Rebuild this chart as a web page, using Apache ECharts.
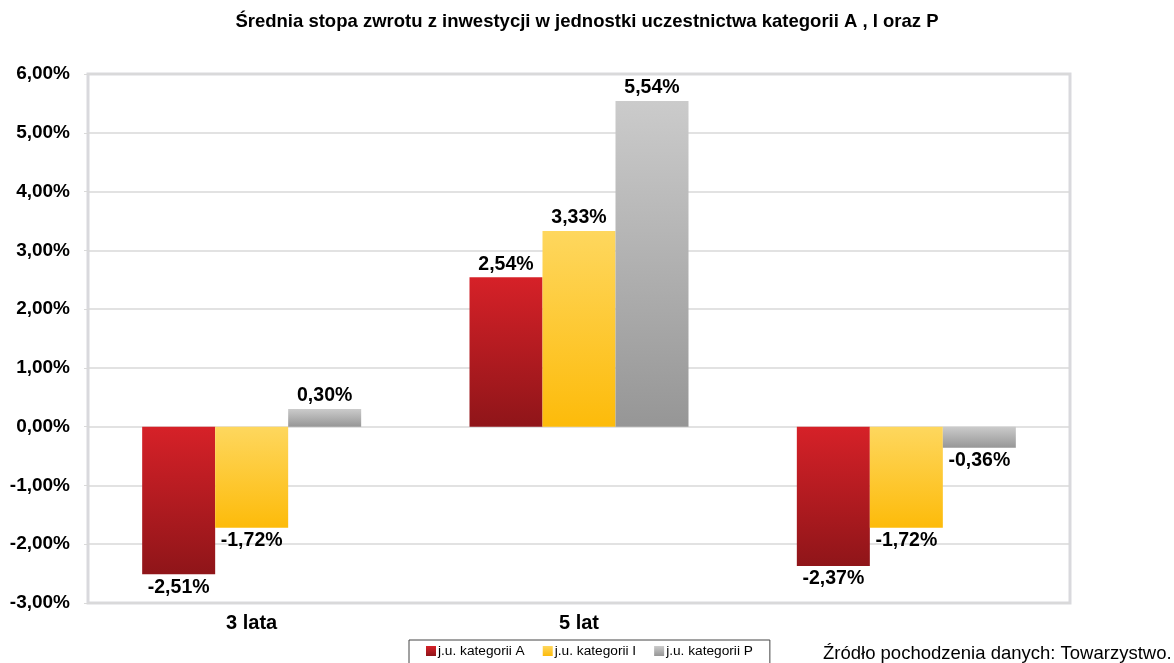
<!DOCTYPE html>
<html>
<head>
<meta charset="utf-8">
<script src="https://cdn.jsdelivr.net/npm/echarts@6/dist/echarts.min.js"></script>
<style>
  html, body { margin: 0; padding: 0; background: #fff; }
  #chart { width: 1174px; height: 663px; }
</style>
</head>
<body>
<div id="chart"></div>
<script>
const categories = ["3 lata", "5 lat", ""];
const seriesNames = ["j.u. kategorii A", "j.u. kategorii I", "j.u. kategorii P"];
const valuesA = [-2.51, 2.54, -2.37];
const valuesI = [-1.72, 3.33, -1.72];
const valuesP = [0.30, 5.54, -0.36];

const gradients = [
  ["#d62128", "#8f1519"],
  ["#fed75e", "#fdbb0a"],
  ["#cbcbcb", "#969696"],
];

const font = "Liberation Sans, Arial, sans-serif";
const fmt = (v) => v.toFixed(2).replace(".", ",") + "%";

function makeSeries(name, data, idx) {
  return {
    name,
    type: "bar",
    data: data.map((v) => ({
      value: v,
      label: { position: v >= 0 ? "top" : "bottom" },
    })),
    barWidth: 73,
    barGap: "0%",
    itemStyle: {
      color: new echarts.graphic.LinearGradient(0, 0, 0, 1, [
        { offset: 0, color: gradients[idx][0] },
        { offset: 1, color: gradients[idx][1] },
      ]),
    },
    label: {
      show: true,
      formatter: (p) => fmt(p.value),
      fontFamily: font,
      fontWeight: "bold",
      fontSize: 19.5,
      color: "#000",
      distance: 3,
    },
  };
}

const chart = echarts.init(document.getElementById("chart"));
chart.setOption({
  animation: false,
  color: [gradients[0][0], gradients[1][0], gradients[2][0]],
  title: [
    {
      text: "Średnia stopa zwrotu z inwestycji w jednostki uczestnictwa kategorii A , I oraz P",
      left: "center",
      top: 7,
      textStyle: { fontFamily: font, fontWeight: "bold", fontSize: 18.5, color: "#000" },
    },
    {
      text: "Źródło pochodzenia danych: Towarzystwo.",
      left: 818,
      top: 639,
      textStyle: { fontFamily: font, fontWeight: "normal", fontSize: 18.5, color: "#000" },
    },
  ],
  legend: {
    data: seriesNames,
    left: 409,
    top: 640,
    padding: [4, 17, 10, 17],
    itemGap: 18,
    itemWidth: 10,
    itemHeight: 10,
    icon: "rect",
    borderColor: "#444",
    borderWidth: 1,
    textStyle: { fontFamily: font, fontSize: 13.7, color: "#000", padding: [0, 0, 0, -3] },
  },
  grid: {
    left: 88,
    right: 104,
    top: 74,
    bottom: 60,
    show: true,
    borderColor: "#d9d9dd",
    borderWidth: 3,
    containLabel: false,
  },
  xAxis: {
    type: "category",
    data: categories,
    position: "bottom",
    axisLine: { show: false },
    axisTick: { show: false },
    axisLabel: {
      fontFamily: font,
      fontWeight: "bold",
      fontSize: 20,
      color: "#000",
      margin: 10,
    },
  },
  yAxis: {
    type: "value",
    min: -3,
    max: 6,
    interval: 1,
    axisLine: { show: false },
    axisTick: { show: true, length: 4, lineStyle: { color: "#d9d9d9" } },
    splitLine: { lineStyle: { color: "#d9d9d9", width: 1.5 } },
    axisLabel: {
      formatter: (v) => fmt(v),
      fontFamily: font,
      fontWeight: "bold",
      fontSize: 19,
      color: "#000",
      margin: 18,
    },
  },
  series: [
    makeSeries(seriesNames[0], valuesA, 0),
    makeSeries(seriesNames[1], valuesI, 1),
    makeSeries(seriesNames[2], valuesP, 2),
  ],
});
</script>
</body>
</html>
